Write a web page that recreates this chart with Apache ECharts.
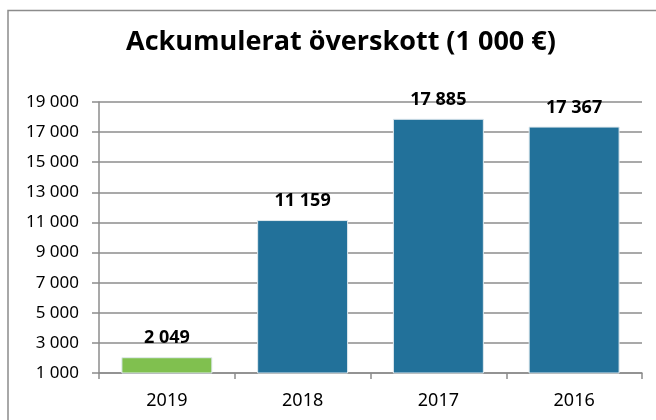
<!DOCTYPE html>
<html>
<head>
<meta charset="utf-8">
<script src="https://cdn.jsdelivr.net/npm/echarts@6/dist/echarts.min.js"></script>
<style>
  html, body { margin: 0; padding: 0; background: #fff; }
  #main { width: 656px; height: 420px; }
</style>
</head>
<body>
<div id="main"></div>
<script>
var years = ['2019', '2018', '2017', '2016'];
var values = [2049, 11159, 17885, 17367];
var barColors = ['#80c04f', '#22719a', '#22719a', '#22719a'];

function fmt(v) {
    return String(v).replace(/\B(?=(\d{3})+(?!\d))/g, ' ');
}

var myChart = echarts.init(document.getElementById('main'));
var option = {
    backgroundColor: '#fff',
    graphic: [{
        type: 'rect',
        shape: { x: 8, y: 10.5, width: 700, height: 500 },
        style: { fill: 'none', stroke: '#8c8c8c', lineWidth: 1.5 },
        silent: true
    }],
    title: {
        text: 'Ackumulerat överskott (1 000 €)',
        left: 121,
        top: 24,
        textStyle: {
            color: '#000',
            fontSize: 27,
            fontWeight: 'bold',
            fontFamily: 'Open Sans'
        }
    },
    grid: {
        left: 99,
        right: 14,
        top: 102,
        bottom: 47
    },
    xAxis: {
        type: 'category',
        data: years,
        axisLine: { lineStyle: { color: '#8c8c8c', width: 1.5 } },
        axisTick: { show: true, length: 6, lineStyle: { color: '#8c8c8c', width: 1.5 } },
        axisLabel: { color: '#000', fontSize: 18, margin: 19, fontFamily: 'Noto Sans' }
    },
    yAxis: {
        type: 'value',
        min: 1000,
        max: 19000,
        interval: 2000,
        axisLine: { show: true, lineStyle: { color: '#8c8c8c', width: 1.5 } },
        axisTick: { show: true, length: 7, lineStyle: { color: '#8c8c8c', width: 1.5 } },
        splitLine: { lineStyle: { color: '#8c8c8c', width: 1.5 } },
        axisLabel: {
            color: '#000',
            fontSize: 17,
            margin: 20,
            fontFamily: 'Noto Sans',
            formatter: fmt
        }
    },
    series: [{
        type: 'bar',
        data: values.map(function (v, i) {
            return { value: v, itemStyle: { color: barColors[i] } };
        }),
        barWidth: '67%',
        itemStyle: { borderColor: '#dfe9ee', borderWidth: 1 },
        label: {
            show: true,
            position: 'top',
            distance: 10,
            color: '#000',
            fontSize: 18,
            fontWeight: 'bold',
            fontFamily: 'Noto Sans',
            formatter: function (p) { return fmt(p.value); }
        }
    }]
};
myChart.setOption(option);
</script>
</body>
</html>
